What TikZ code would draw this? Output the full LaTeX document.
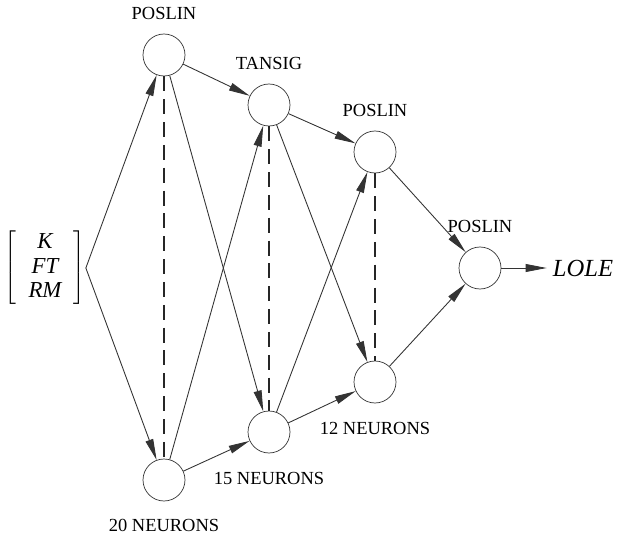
\documentclass[tikz,border=0pt]{standalone}
\usepackage{fontspec}
\setmainfont{Liberation Serif}
\usepackage{tikz}
\usetikzlibrary{arrows.meta,% filled arrow heads
positioning}
\tikzset{every node/.style={font=\fontsize{10.5}{12}\selectfont}}

\begin{document}
\begin{tikzpicture}[
  >={Triangle[length=12pt,width=4.5pt]},
  neuron/.style={shape=circle, draw=black!80, minimum size=0.84cm, inner sep=0pt},
  wire/.style={draw=black!80, line width=0.5pt},
  layer/.style={draw=black!85, line width=0.6pt, dash pattern=on 8.5pt off 4.5pt}
% the neurons of one layer are joined by a dashed line
]
\useasboundingbox (0,0) rectangle (12.44,10.7);

\path (0.9,5.34) node[inner sep=0pt] (in) {\fontsize{13}{15}\selectfont
$\left[\,\begin{array}{c}
\mathit{K}\\[-1pt]
\mathit{FT}\\[-1pt]
\mathit{RM}
\end{array}\,\right]$};

\path (3.28,9.6) node[neuron] (a1) {};
\path (3.28,1.1) node[neuron] (a2) {};
\path (5.38,8.6) node[neuron] (b1) {};
\path (5.38,2.06) node[neuron] (b2) {};
\path (7.5,7.66) node[neuron] (c1) {};
\path (7.5,3.06) node[neuron] (c2) {};
\path (9.6,5.34) node[neuron] (out) {};
\path (11.66,5.34) node (lole) {\fontsize{14}{16}\selectfont\textit{LOLE}};

\node[above=0.16cm of a1] (fa1) {POSLIN};
\node[above=0.16cm of b1] (fb1) {TANSIG};
\node[above=0.16cm of c1] (fc1) {POSLIN};
\node[above=0.16cm of out] (fout) {POSLIN};
\node[below=0.24cm of a2] (na2) {20 NEURONS};
\node[below=0.26cm of b2] (nb2) {15 NEURONS};
\node[below=0.26cm of c2] (nc2) {12 NEURONS};

\begin{scope}[wire]
\draw[->] (in.east) -- (a1);
\draw[->] (in.east) -- (a2);
\draw[->] (a1) -- (b1);
\draw[->] (a1) -- (b2);
\draw[->] (a2) -- (b1);
\draw[->] (a2) -- (b2);
\draw[->] (b1) -- (c1);
\draw[->] (b1) -- (c2);
\draw[->] (b2) -- (c1);
\draw[->] (b2) -- (c2);
\draw[->] (c1) -- (out);
\draw[->] (c2) -- (out);
\draw[->] (out) -- (lole);
\end{scope}

\draw[layer] (a1) -- (a2);
\draw[layer] (b1) -- (b2);
\draw[layer] (c1) -- (c2);
\end{tikzpicture}
\end{document}
